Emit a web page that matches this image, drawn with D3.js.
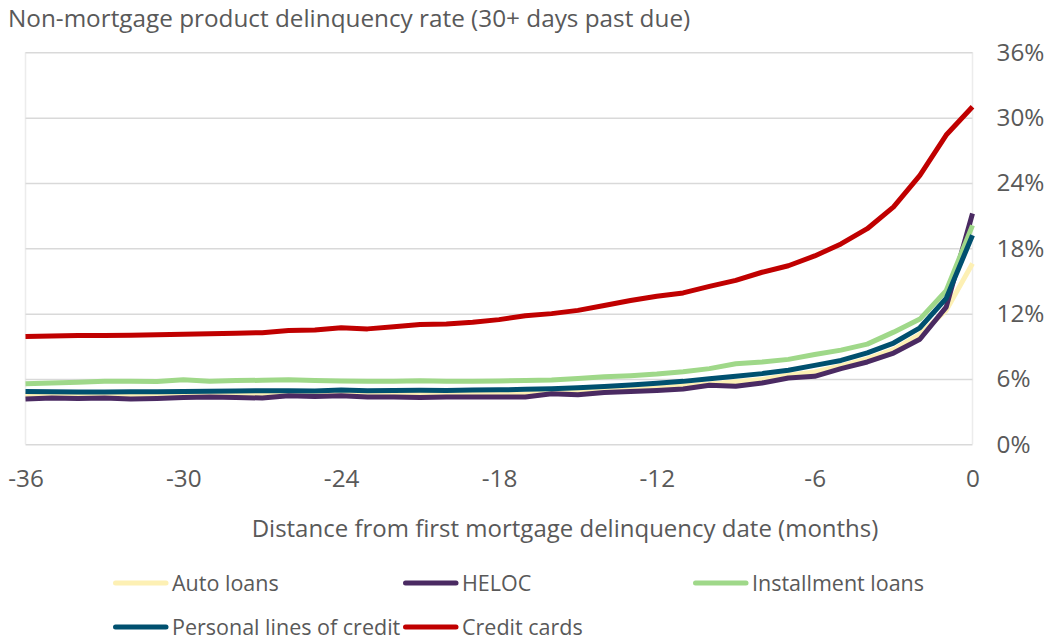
<!DOCTYPE html>
<html>
<head>
<meta charset="utf-8">
<script src="https://cdn.jsdelivr.net/npm/d3@7"></script>
<style>
  html, body { margin: 0; padding: 0; background: #fff; }
  svg { display: block; font-family: "Open Sans", "Noto Sans", sans-serif; }
</style>
</head>
<body>
<svg id="chart" width="1051" height="643"></svg>
<script>
// Months relative to the first mortgage delinquency
const months = d3.range(-36, 1);
const xTicks = [-36, -30, -24, -18, -12, -6, 0];
const yTicks = [0, 6, 12, 18, 24, 30, 36];

// Delinquency rates (%) per product, month -36 .. 0
const autoLoans = [4.55, 4.6, 4.58, 4.6, 4.55, 4.58, 4.62, 4.65, 4.6, 4.58, 4.68, 4.65, 4.7, 4.62, 4.62, 4.6, 4.62, 4.62, 4.6, 4.62, 4.78, 4.85, 4.95, 5.05, 5.2, 5.35, 5.55, 5.75, 5.95, 6.35, 6.65, 7.2, 7.85, 8.7, 10.1, 12.3, 16.6];
const heloc = [4.15, 4.25, 4.2, 4.25, 4.15, 4.2, 4.3, 4.35, 4.3, 4.25, 4.45, 4.4, 4.45, 4.35, 4.35, 4.3, 4.35, 4.35, 4.35, 4.35, 4.65, 4.55, 4.75, 4.85, 4.95, 5.08, 5.42, 5.33, 5.63, 6.09, 6.24, 6.95, 7.56, 8.38, 9.65, 12.6, 21.2];
const installmentLoans = [5.55, 5.62, 5.7, 5.78, 5.78, 5.76, 5.92, 5.8, 5.85, 5.88, 5.92, 5.85, 5.82, 5.8, 5.8, 5.84, 5.8, 5.8, 5.82, 5.85, 5.9, 6.05, 6.2, 6.3, 6.45, 6.67, 6.95, 7.4, 7.56, 7.8, 8.25, 8.65, 9.2, 10.3, 11.5, 14.1, 20.1];
const personalLines = [4.85, 4.82, 4.8, 4.8, 4.82, 4.82, 4.85, 4.88, 4.9, 4.92, 4.92, 4.9, 4.98, 4.92, 4.95, 4.97, 4.95, 4.98, 5.0, 5.05, 5.1, 5.2, 5.3, 5.45, 5.6, 5.78, 6.03, 6.24, 6.49, 6.8, 7.25, 7.7, 8.4, 9.3, 10.7, 13.4, 19.2];
const creditCards = [9.9, 9.95, 10.0, 10.0, 10.02, 10.05, 10.1, 10.15, 10.2, 10.25, 10.45, 10.5, 10.7, 10.6, 10.8, 11.0, 11.05, 11.2, 11.45, 11.8, 12.0, 12.3, 12.75, 13.2, 13.6, 13.9, 14.5, 15.05, 15.8, 16.4, 17.3, 18.4, 19.8, 21.8, 24.7, 28.4, 31.0];

const seriesNames = ["Auto loans", "HELOC", "Installment loans", "Personal lines of credit", "Credit cards"];
const seriesValues = [autoLoans, heloc, installmentLoans, personalLines, creditCards];
const seriesColors = ["#fdf0b4", "#4a2a62", "#9fd889", "#00506f", "#c00000"];

const svg = d3.select("#chart");
const textColor = "#595959";
const gridColor = "#d9d9d9";

const plotLeft = 25.5, plotRight = 972.5, plotTop = 52.3, plotBottom = 444.3;

const x = d3.scaleLinear().domain([-36, 0]).range([plotLeft, plotRight]);
const y = d3.scaleLinear().domain([0, 36]).range([plotBottom, plotTop]);

// Chart title
svg.append("text")
  .attr("x", 8).attr("y", 27)
  .attr("fill", textColor).attr("font-size", 24.3)
  .text("Non-mortgage product delinquency rate (30+ days past due)");

// Plot frame: vertical edges
svg.append("g").selectAll("line").data([plotLeft, plotRight]).join("line")
  .attr("x1", d => d).attr("x2", d => d)
  .attr("y1", plotTop).attr("y2", plotBottom)
  .attr("stroke", "#ececec").attr("stroke-width", 1.5);

// Horizontal gridlines + right-hand value axis
const yAxis = d3.axisRight(y).tickValues(yTicks).tickFormat(d => d + "%")
  .tickSize(-(plotRight - plotLeft)).tickPadding(24);
const gy = svg.append("g").attr("transform", `translate(${plotRight},0)`).call(yAxis);
gy.select(".domain").remove();
gy.selectAll(".tick line").attr("stroke", gridColor).attr("stroke-width", 1.5);
gy.selectAll(".tick text").attr("fill", textColor).attr("font-size", 24.3)
  .attr("font-family", "'Open Sans', sans-serif");

// Month axis labels (plain hyphen for negatives)
const xAxis = d3.axisBottom(x).tickValues(xTicks).tickFormat(d => String(d)).tickSize(0).tickPadding(25);
const gx = svg.append("g").attr("transform", `translate(0,${plotBottom})`).call(xAxis);
gx.select(".domain").remove();
gx.selectAll(".tick text").attr("fill", textColor).attr("font-size", 24.3)
  .attr("font-family", "'Open Sans', sans-serif");

// Month axis title
svg.append("text")
  .attr("x", 565).attr("y", 537).attr("text-anchor", "middle")
  .attr("fill", textColor).attr("font-size", 24)
  .text("Distance from first mortgage delinquency date (months)");

// Series lines
const line = d3.line().x((d, i) => x(months[i])).y(d => y(d));
svg.append("g").selectAll("path").data(seriesValues).join("path")
  .attr("d", line)
  .attr("fill", "none")
  .attr("stroke", (d, i) => seriesColors[i])
  .attr("stroke-width", 5)
  .attr("stroke-linejoin", "round")
  .attr("stroke-linecap", "butt");

// Legend
const legendPos = [
  { x: 113, y: 583 }, { x: 403, y: 583 }, { x: 693, y: 583 },
  { x: 113, y: 627 }, { x: 403, y: 627 }
];
const lg = svg.append("g").selectAll("g").data(seriesNames).join("g")
  .attr("transform", (d, i) => `translate(${legendPos[i].x},${legendPos[i].y})`);
lg.append("line")
  .attr("x1", 2.5).attr("x2", 53).attr("y1", 0).attr("y2", 0)
  .attr("stroke", (d, i) => seriesColors[i]).attr("stroke-width", 5)
  .attr("stroke-linecap", "round");
lg.append("text")
  .attr("x", 59).attr("y", 7.5)
  .attr("fill", textColor).attr("font-size", 21.5)
  .text(d => d);
</script>
</body>
</html>
